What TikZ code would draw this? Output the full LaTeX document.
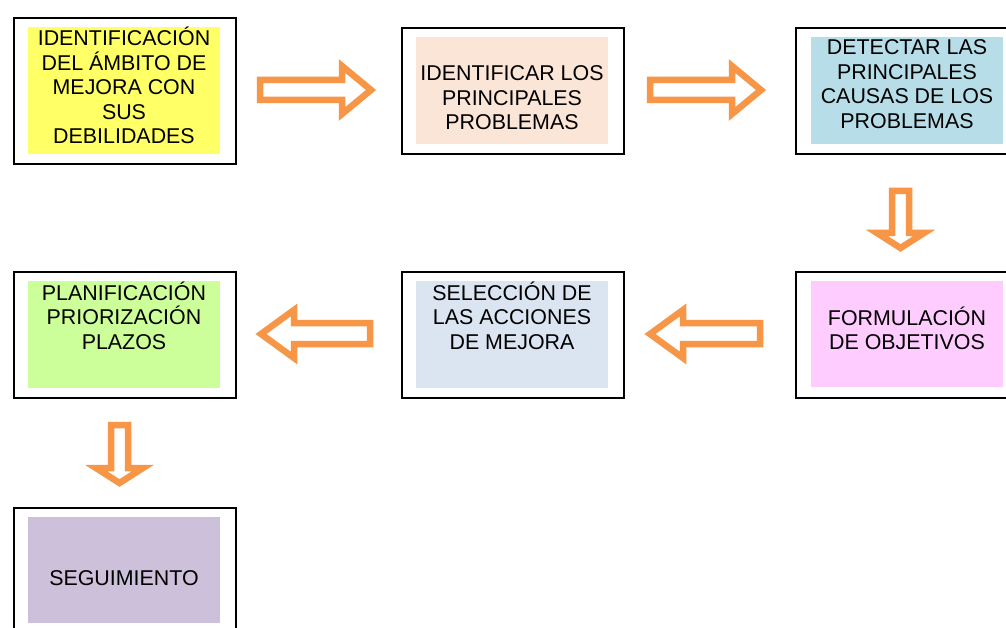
\documentclass[tikz,border=0pt]{standalone}
\usepackage{fontspec}
\setmainfont{Liberation Sans}
\definecolor{arroworange}{HTML}{F79646}
\definecolor{cyellow}{HTML}{FFFF66}
\definecolor{cpeach}{HTML}{FBE5D6}
\definecolor{cblue}{HTML}{B7DEE8}
\definecolor{cpink}{HTML}{FFCCFF}
\definecolor{csteel}{HTML}{DBE5F1}
\definecolor{cgreen}{HTML}{CCFF99}
\definecolor{clilac}{HTML}{CCC0DA}
\begin{document}
\begin{tikzpicture}[x=1pt,y=-1pt,
  frame/.style={draw=black, line width=2pt, minimum width=222pt, minimum height=146pt, inner sep=0pt, anchor=north west},
  framelow/.style={frame, minimum height=126pt},
  inner/.style={minimum width=192pt, inner sep=0pt, anchor=north west, draw=none},
  steptext/.style={anchor=base, inner sep=0pt, font=\fontsize{21.4}{24.5}\selectfont},
  blockarrow/.style={draw=arroworange, line width=6.5pt, line join=miter, fill=white}]
\clip (0,0) rectangle (1006,628);
\fill[white] (0,0) rectangle (1006,628);

% ---- row 1
\node[frame] (f1) at (13,17) {};
\node[inner, fill=cyellow, minimum height=127pt] (s1) at (28,27) {};
\node[steptext] (t1) at (124,46) {\parbox[t]{200pt}{\centering IDENTIFICACIÓN\\DEL ÁMBITO DE\\MEJORA CON\\SUS\\DEBILIDADES}};

\node[framelow] (f2) at (401,27) {};
\node[inner, fill=cpeach, minimum height=107pt] (s2) at (416,37) {};
\node[steptext] (t2) at (512,81) {\parbox[t]{200pt}{\centering IDENTIFICAR LOS\\PRINCIPALES\\PROBLEMAS}};

\node[framelow] (f3) at (795,27) {};
\node[inner, fill=cblue, minimum height=107pt] (s3) at (811,37) {};
\node[steptext] (t3) at (907,55) {\parbox[t]{200pt}{\centering DETECTAR LAS\\PRINCIPALES\\CAUSAS DE LOS\\PROBLEMAS}};

% ---- row 2
\node[framelow] (f4) at (795,271) {};
\node[inner, fill=cpink, minimum height=106pt] (s4) at (811,281) {};
\node[steptext] (t4) at (907,325) {\parbox[t]{200pt}{\centering FORMULACIÓN\\DE OBJETIVOS}};

\node[framelow] (f5) at (401,271) {};
\node[inner, fill=csteel, minimum height=107pt] (s5) at (416,281) {};
\node[steptext] (t5) at (512,300) {\parbox[t]{200pt}{\centering SELECCIÓN DE\\LAS ACCIONES\\DE MEJORA}};

\node[framelow] (f6) at (13,271) {};
\node[inner, fill=cgreen, minimum height=107pt] (s6) at (28,281) {};
\node[steptext] (t6) at (124,300) {\parbox[t]{200pt}{\centering PLANIFICACIÓN\\PRIORIZACIÓN\\PLAZOS}};

% ---- row 3
\node[frame] (f7) at (13,507) {};
\node[inner, fill=clilac, minimum height=106pt] (s7) at (28,517) {};
\node[steptext] (t7) at (124,585) {SEGUIMIENTO};

% ---- block arrows
\draw[blockarrow] (260,80)--(342,80)--(342,66)--(371,90)--(342,114)--(342,100)--(260,100)--cycle;
\draw[blockarrow] (650,80)--(732,80)--(732,66)--(761,90)--(732,114)--(732,100)--(650,100)--cycle;
\draw[blockarrow] (892,191)--(909,191)--(909,233)--(924,233)--(900.5,248)--(877,233)--(892,233)--cycle;
\draw[blockarrow] (760,323)--(683,323)--(683,310)--(650,334)--(683,358)--(683,344)--(760,344)--cycle;
\draw[blockarrow] (370,323)--(294,323)--(294,310)--(261,334)--(294,358)--(294,344)--(370,344)--cycle;
\draw[blockarrow] (111,425)--(128,425)--(128,468)--(143,468)--(119.5,483)--(96,468)--(111,468)--cycle;
\end{tikzpicture}
\end{document}
